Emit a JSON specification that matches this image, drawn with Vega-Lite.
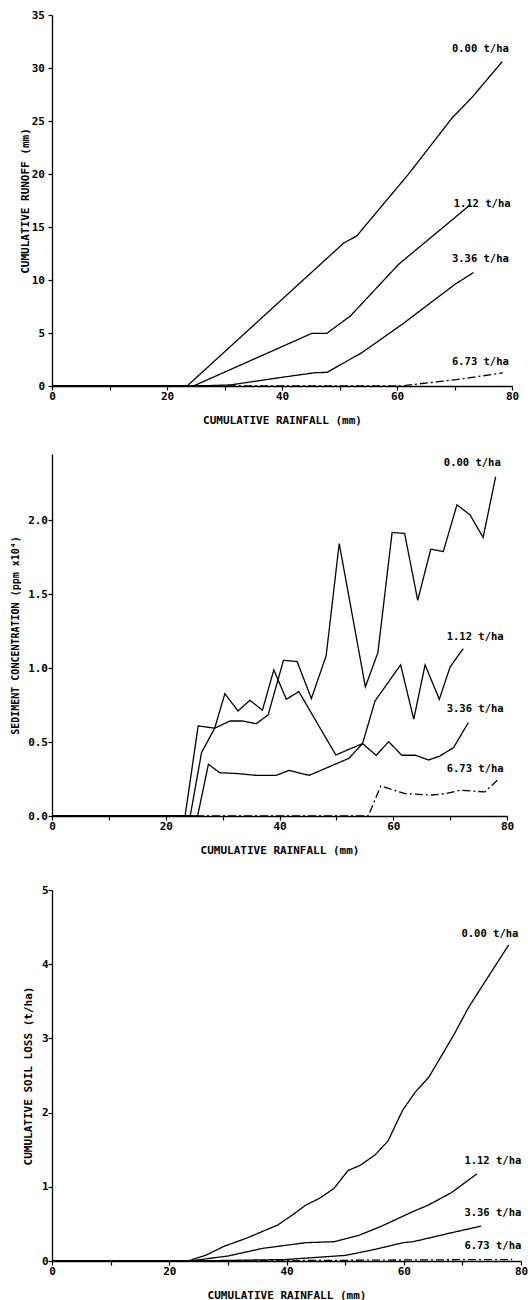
{
  "$schema": "https://vega.github.io/schema/vega-lite/v6.json",
  "padding": {"left": 10, "top": 9, "right": 0, "bottom": 0},
  "spacing": 29,
  "background": "white",
  "config": {
    "view": {"stroke": null},
    "axis": {
      "grid": false,
      "domainColor": "black",
      "domainWidth": 1.3,
      "tickColor": "black",
      "tickWidth": 1.2,
      "tickSize": 4,
      "labelColor": "black",
      "titleColor": "black",
      "labelFont": "DejaVu Sans Mono",
      "titleFont": "DejaVu Sans Mono",
      "labelFontWeight": "bold",
      "titleFontWeight": "bold",
      "labelFontSize": 11,
      "titleFontSize": 11,
      "labelFlush": false,
      "labelOverlap": false
    }
  },
  "datasets": {
    "series": [
      {"panel": "runoff", "series": "0.00", "rain": 0, "value": 0},
      {"panel": "runoff", "series": "0.00", "rain": 23.5, "value": 0},
      {"panel": "runoff", "series": "0.00", "rain": 50.7, "value": 13.47},
      {"panel": "runoff", "series": "0.00", "rain": 53.0, "value": 14.16},
      {"panel": "runoff", "series": "0.00", "rain": 62.0, "value": 19.99},
      {"panel": "runoff", "series": "0.00", "rain": 69.6, "value": 25.3},
      {"panel": "runoff", "series": "0.00", "rain": 73.0, "value": 27.2},
      {"panel": "runoff", "series": "0.00", "rain": 78.3, "value": 30.6},
      {"panel": "runoff", "series": "1.12", "rain": 0, "value": 0},
      {"panel": "runoff", "series": "1.12", "rain": 24.6, "value": 0},
      {"panel": "runoff", "series": "1.12", "rain": 45.2, "value": 4.97},
      {"panel": "runoff", "series": "1.12", "rain": 47.8, "value": 4.97},
      {"panel": "runoff", "series": "1.12", "rain": 51.9, "value": 6.61},
      {"panel": "runoff", "series": "1.12", "rain": 60.3, "value": 11.49},
      {"panel": "runoff", "series": "1.12", "rain": 72.75, "value": 17.1},
      {"panel": "runoff", "series": "3.36", "rain": 0, "value": 0},
      {"panel": "runoff", "series": "3.36", "rain": 25, "value": 0},
      {"panel": "runoff", "series": "3.36", "rain": 31, "value": 0.1},
      {"panel": "runoff", "series": "3.36", "rain": 40, "value": 0.82},
      {"panel": "runoff", "series": "3.36", "rain": 45.8, "value": 1.26},
      {"panel": "runoff", "series": "3.36", "rain": 47.8, "value": 1.28},
      {"panel": "runoff", "series": "3.36", "rain": 53.9, "value": 3.15},
      {"panel": "runoff", "series": "3.36", "rain": 60.9, "value": 5.82},
      {"panel": "runoff", "series": "3.36", "rain": 70.1, "value": 9.6},
      {"panel": "runoff", "series": "3.36", "rain": 73.3, "value": 10.7},
      {"panel": "runoff", "series": "6.73", "rain": 0, "value": 0},
      {"panel": "runoff", "series": "6.73", "rain": 60.5, "value": 0},
      {"panel": "runoff", "series": "6.73", "rain": 70.3, "value": 0.6},
      {"panel": "runoff", "series": "6.73", "rain": 78.4, "value": 1.23},

      {"panel": "sediment", "series": "0.00", "rain": 0, "value": 0},
      {"panel": "sediment", "series": "0.00", "rain": 24.3, "value": 0},
      {"panel": "sediment", "series": "0.00", "rain": 26.3, "value": 0.43},
      {"panel": "sediment", "series": "0.00", "rain": 28.6, "value": 0.594},
      {"panel": "sediment", "series": "0.00", "rain": 31.3, "value": 0.643},
      {"panel": "sediment", "series": "0.00", "rain": 33.5, "value": 0.643},
      {"panel": "sediment", "series": "0.00", "rain": 35.9, "value": 0.625},
      {"panel": "sediment", "series": "0.00", "rain": 38.0, "value": 0.684},
      {"panel": "sediment", "series": "0.00", "rain": 40.7, "value": 1.054},
      {"panel": "sediment", "series": "0.00", "rain": 43.1, "value": 1.045},
      {"panel": "sediment", "series": "0.00", "rain": 45.6, "value": 0.795},
      {"panel": "sediment", "series": "0.00", "rain": 48.2, "value": 1.084},
      {"panel": "sediment", "series": "0.00", "rain": 50.5, "value": 1.844},
      {"panel": "sediment", "series": "0.00", "rain": 55.1, "value": 0.874},
      {"panel": "sediment", "series": "0.00", "rain": 57.3, "value": 1.106},
      {"panel": "sediment", "series": "0.00", "rain": 59.8, "value": 1.919},
      {"panel": "sediment", "series": "0.00", "rain": 62.0, "value": 1.912},
      {"panel": "sediment", "series": "0.00", "rain": 64.3, "value": 1.46},
      {"panel": "sediment", "series": "0.00", "rain": 66.6, "value": 1.806},
      {"panel": "sediment", "series": "0.00", "rain": 68.8, "value": 1.79},
      {"panel": "sediment", "series": "0.00", "rain": 71.2, "value": 2.106},
      {"panel": "sediment", "series": "0.00", "rain": 73.5, "value": 2.038},
      {"panel": "sediment", "series": "0.00", "rain": 75.8, "value": 1.885},
      {"panel": "sediment", "series": "0.00", "rain": 78.0, "value": 2.296},
      {"panel": "sediment", "series": "1.12", "rain": 0, "value": 0},
      {"panel": "sediment", "series": "1.12", "rain": 23.4, "value": 0},
      {"panel": "sediment", "series": "1.12", "rain": 25.7, "value": 0.61},
      {"panel": "sediment", "series": "1.12", "rain": 28.6, "value": 0.594},
      {"panel": "sediment", "series": "1.12", "rain": 30.4, "value": 0.828},
      {"panel": "sediment", "series": "1.12", "rain": 32.7, "value": 0.711},
      {"panel": "sediment", "series": "1.12", "rain": 34.8, "value": 0.783},
      {"panel": "sediment", "series": "1.12", "rain": 37.0, "value": 0.716},
      {"panel": "sediment", "series": "1.12", "rain": 39.0, "value": 0.989},
      {"panel": "sediment", "series": "1.12", "rain": 41.2, "value": 0.79},
      {"panel": "sediment", "series": "1.12", "rain": 43.4, "value": 0.842},
      {"panel": "sediment", "series": "1.12", "rain": 49.9, "value": 0.413},
      {"panel": "sediment", "series": "1.12", "rain": 54.6, "value": 0.49},
      {"panel": "sediment", "series": "1.12", "rain": 56.8, "value": 0.779},
      {"panel": "sediment", "series": "1.12", "rain": 61.3, "value": 1.023},
      {"panel": "sediment", "series": "1.12", "rain": 63.6, "value": 0.655},
      {"panel": "sediment", "series": "1.12", "rain": 65.6, "value": 1.023},
      {"panel": "sediment", "series": "1.12", "rain": 68.1, "value": 0.79},
      {"panel": "sediment", "series": "1.12", "rain": 70.0, "value": 1.009},
      {"panel": "sediment", "series": "1.12", "rain": 72.3, "value": 1.133},
      {"panel": "sediment", "series": "3.36", "rain": 0, "value": 0},
      {"panel": "sediment", "series": "3.36", "rain": 25.6, "value": 0},
      {"panel": "sediment", "series": "3.36", "rain": 27.5, "value": 0.35},
      {"panel": "sediment", "series": "3.36", "rain": 29.5, "value": 0.293},
      {"panel": "sediment", "series": "3.36", "rain": 32.7, "value": 0.287},
      {"panel": "sediment", "series": "3.36", "rain": 35.9, "value": 0.275},
      {"panel": "sediment", "series": "3.36", "rain": 39.4, "value": 0.275},
      {"panel": "sediment", "series": "3.36", "rain": 41.7, "value": 0.309},
      {"panel": "sediment", "series": "3.36", "rain": 45.2, "value": 0.275},
      {"panel": "sediment", "series": "3.36", "rain": 52.2, "value": 0.39},
      {"panel": "sediment", "series": "3.36", "rain": 54.6, "value": 0.49},
      {"panel": "sediment", "series": "3.36", "rain": 57.0, "value": 0.411},
      {"panel": "sediment", "series": "3.36", "rain": 59.2, "value": 0.503},
      {"panel": "sediment", "series": "3.36", "rain": 61.5, "value": 0.411},
      {"panel": "sediment", "series": "3.36", "rain": 63.9, "value": 0.411},
      {"panel": "sediment", "series": "3.36", "rain": 66.2, "value": 0.379},
      {"panel": "sediment", "series": "3.36", "rain": 68.2, "value": 0.406},
      {"panel": "sediment", "series": "3.36", "rain": 70.6, "value": 0.463},
      {"panel": "sediment", "series": "3.36", "rain": 73.2, "value": 0.632},
      {"panel": "sediment", "series": "6.73", "rain": 0, "value": 0},
      {"panel": "sediment", "series": "6.73", "rain": 55.6, "value": 0},
      {"panel": "sediment", "series": "6.73", "rain": 57.8, "value": 0.203},
      {"panel": "sediment", "series": "6.73", "rain": 62.1, "value": 0.151},
      {"panel": "sediment", "series": "6.73", "rain": 66.8, "value": 0.142},
      {"panel": "sediment", "series": "6.73", "rain": 69.1, "value": 0.151},
      {"panel": "sediment", "series": "6.73", "rain": 71.7, "value": 0.174},
      {"panel": "sediment", "series": "6.73", "rain": 76.1, "value": 0.163},
      {"panel": "sediment", "series": "6.73", "rain": 78.3, "value": 0.242},

      {"panel": "soil", "series": "0.00", "rain": 0, "value": 0},
      {"panel": "soil", "series": "0.00", "rain": 23.2, "value": 0},
      {"panel": "soil", "series": "0.00", "rain": 26.3, "value": 0.08},
      {"panel": "soil", "series": "0.00", "rain": 29.4, "value": 0.2},
      {"panel": "soil", "series": "0.00", "rain": 33.1, "value": 0.305},
      {"panel": "soil", "series": "0.00", "rain": 38.5, "value": 0.485},
      {"panel": "soil", "series": "0.00", "rain": 41.0, "value": 0.62},
      {"panel": "soil", "series": "0.00", "rain": 43.3, "value": 0.754},
      {"panel": "soil", "series": "0.00", "rain": 45.6, "value": 0.843},
      {"panel": "soil", "series": "0.00", "rain": 48.1, "value": 0.978},
      {"panel": "soil", "series": "0.00", "rain": 50.5, "value": 1.22},
      {"panel": "soil", "series": "0.00", "rain": 52.6, "value": 1.29},
      {"panel": "soil", "series": "0.00", "rain": 55.1, "value": 1.43},
      {"panel": "soil", "series": "0.00", "rain": 57.3, "value": 1.615},
      {"panel": "soil", "series": "0.00", "rain": 59.8, "value": 2.03},
      {"panel": "soil", "series": "0.00", "rain": 61.9, "value": 2.27},
      {"panel": "soil", "series": "0.00", "rain": 64.3, "value": 2.48},
      {"panel": "soil", "series": "0.00", "rain": 68.7, "value": 3.07},
      {"panel": "soil", "series": "0.00", "rain": 71.0, "value": 3.41},
      {"panel": "soil", "series": "0.00", "rain": 73.1, "value": 3.67},
      {"panel": "soil", "series": "0.00", "rain": 77.9, "value": 4.26},
      {"panel": "soil", "series": "1.12", "rain": 0, "value": 0},
      {"panel": "soil", "series": "1.12", "rain": 23.5, "value": 0},
      {"panel": "soil", "series": "1.12", "rain": 30.0, "value": 0.067},
      {"panel": "soil", "series": "1.12", "rain": 35.9, "value": 0.17},
      {"panel": "soil", "series": "1.12", "rain": 43.3, "value": 0.247},
      {"panel": "soil", "series": "1.12", "rain": 48.1, "value": 0.26},
      {"panel": "soil", "series": "1.12", "rain": 52.3, "value": 0.345},
      {"panel": "soil", "series": "1.12", "rain": 56.0, "value": 0.462},
      {"panel": "soil", "series": "1.12", "rain": 61.4, "value": 0.66},
      {"panel": "soil", "series": "1.12", "rain": 64.2, "value": 0.754},
      {"panel": "soil", "series": "1.12", "rain": 68.1, "value": 0.92},
      {"panel": "soil", "series": "1.12", "rain": 72.5, "value": 1.175},
      {"panel": "soil", "series": "3.36", "rain": 0, "value": 0},
      {"panel": "soil", "series": "3.36", "rain": 23.5, "value": 0},
      {"panel": "soil", "series": "3.36", "rain": 39.9, "value": 0.02},
      {"panel": "soil", "series": "3.36", "rain": 50.1, "value": 0.076},
      {"panel": "soil", "series": "3.36", "rain": 55.1, "value": 0.157},
      {"panel": "soil", "series": "3.36", "rain": 59.9, "value": 0.247},
      {"panel": "soil", "series": "3.36", "rain": 61.6, "value": 0.26},
      {"panel": "soil", "series": "3.36", "rain": 68.1, "value": 0.38},
      {"panel": "soil", "series": "3.36", "rain": 73.2, "value": 0.47},
      {"panel": "soil", "series": "6.73", "rain": 0, "value": 0},
      {"panel": "soil", "series": "6.73", "rain": 40, "value": 0.005},
      {"panel": "soil", "series": "6.73", "rain": 62, "value": 0.015},
      {"panel": "soil", "series": "6.73", "rain": 78.5, "value": 0.02}
    ],
    "labels": [
      {"panel": "runoff", "label": "0.00 t/ha", "rain": 74.5, "value": 31.8},
      {"panel": "runoff", "label": "1.12 t/ha", "rain": 74.8, "value": 17.15},
      {"panel": "runoff", "label": "3.36 t/ha", "rain": 74.5, "value": 11.96},
      {"panel": "runoff", "label": "6.73 t/ha", "rain": 74.5, "value": 2.3},
      {"panel": "sediment", "label": "0.00 t/ha", "rain": 73.9, "value": 2.39},
      {"panel": "sediment", "label": "1.12 t/ha", "rain": 74.4, "value": 1.212},
      {"panel": "sediment", "label": "3.36 t/ha", "rain": 74.4, "value": 0.727},
      {"panel": "sediment", "label": "6.73 t/ha", "rain": 74.4, "value": 0.32},
      {"panel": "soil", "label": "0.00 t/ha", "rain": 74.7, "value": 4.41},
      {"panel": "soil", "label": "1.12 t/ha", "rain": 75.2, "value": 1.35},
      {"panel": "soil", "label": "3.36 t/ha", "rain": 75.2, "value": 0.65},
      {"panel": "soil", "label": "6.73 t/ha", "rain": 75.2, "value": 0.2}
    ]
  },
  "vconcat": [
    {
      "width": 460,
      "height": 371,
      "layer": [
        {
          "data": {"name": "series"},
          "transform": [{"filter": "datum.panel === 'runoff'"}],
          "mark": {"type": "line", "color": "black", "strokeWidth": 1.3},
          "encoding": {
            "x": {"field": "rain", "type": "quantitative", "scale": {"domain": [0, 80], "nice": false},
              "axis": {"title": "CUMULATIVE RAINFALL (mm)", "values": [0, 10, 20, 30, 40, 50, 60, 70, 80], "format": "d", "labelExpr": "datum.value % 20 === 0 ? datum.label : ''", "labelPadding": 0, "titlePadding": 13}},
            "y": {"field": "value", "type": "quantitative", "scale": {"domain": [0, 35], "nice": false},
              "axis": {"title": "CUMULATIVE RUNOFF (mm)", "values": [0, 5, 10, 15, 20, 25, 30, 35], "format": "d", "labelPadding": 3.5, "titlePadding": 1}},
            "detail": {"field": "series"},
            "strokeDash": {"field": "series", "type": "nominal", "scale": {"domain": ["0.00", "1.12", "3.36", "6.73"], "range": [[1, 0], [1, 0], [1, 0], [8, 3, 2, 3]]}, "legend": null}
          }
        },
        {
          "data": {"name": "labels"},
          "transform": [{"filter": "datum.panel === 'runoff'"}],
          "mark": {"type": "text", "font": "DejaVu Sans Mono", "fontWeight": "bold", "fontSize": 10.5, "align": "center", "baseline": "middle", "color": "black"},
          "encoding": {
            "x": {"field": "rain", "type": "quantitative"},
            "y": {"field": "value", "type": "quantitative"},
            "text": {"field": "label"}
          }
        }
      ]
    },
    {
      "width": 455,
      "height": 362,
      "layer": [
        {
          "data": {"name": "series"},
          "transform": [{"filter": "datum.panel === 'sediment'"}],
          "mark": {"type": "line", "color": "black", "strokeWidth": 1.3},
          "encoding": {
            "x": {"field": "rain", "type": "quantitative", "scale": {"domain": [0, 80], "nice": false},
              "axis": {"title": "CUMULATIVE RAINFALL (mm)", "values": [0, 10, 20, 30, 40, 50, 60, 70, 80], "format": "d", "labelExpr": "datum.value % 20 === 0 ? datum.label : ''", "labelPadding": 0, "titlePadding": 13}},
            "y": {"field": "value", "type": "quantitative", "scale": {"domain": [0, 2.45], "nice": false},
              "axis": {"title": "SEDIMENT CONCENTRATION (ppm x10⁴)", "titleFontSize": 10, "values": [0, 0.5, 1, 1.5, 2], "format": ".1f", "labelPadding": 0.5, "titlePadding": 7}},
            "detail": {"field": "series"},
            "strokeDash": {"field": "series", "type": "nominal", "scale": {"domain": ["0.00", "1.12", "3.36", "6.73"], "range": [[1, 0], [1, 0], [1, 0], [8, 3, 2, 3]]}, "legend": null}
          }
        },
        {
          "data": {"name": "labels"},
          "transform": [{"filter": "datum.panel === 'sediment'"}],
          "mark": {"type": "text", "font": "DejaVu Sans Mono", "fontWeight": "bold", "fontSize": 10.5, "align": "center", "baseline": "middle", "color": "black"},
          "encoding": {
            "x": {"field": "rain", "type": "quantitative"},
            "y": {"field": "value", "type": "quantitative"},
            "text": {"field": "label"}
          }
        }
      ]
    },
    {
      "width": 469,
      "height": 371,
      "layer": [
        {
          "data": {"name": "series"},
          "transform": [{"filter": "datum.panel === 'soil'"}],
          "mark": {"type": "line", "color": "black", "strokeWidth": 1.3},
          "encoding": {
            "x": {"field": "rain", "type": "quantitative", "scale": {"domain": [0, 80], "nice": false},
              "axis": {"title": "CUMULATIVE RAINFALL (mm)", "values": [0, 10, 20, 30, 40, 50, 60, 70, 80], "format": "d", "labelExpr": "datum.value % 20 === 0 ? datum.label : ''", "labelPadding": 0, "titlePadding": 13}},
            "y": {"field": "value", "type": "quantitative", "scale": {"domain": [0, 5], "nice": false},
              "axis": {"title": "CUMULATIVE SOIL LOSS (t/ha)", "values": [0, 1, 2, 3, 4, 5], "format": "d", "labelPadding": 0, "titlePadding": 7.7}},
            "detail": {"field": "series"},
            "strokeDash": {"field": "series", "type": "nominal", "scale": {"domain": ["0.00", "1.12", "3.36", "6.73"], "range": [[1, 0], [1, 0], [1, 0], [1, 0]]}, "legend": null}
          }
        },
        {
          "data": {"name": "labels"},
          "transform": [{"filter": "datum.panel === 'soil'"}],
          "mark": {"type": "text", "font": "DejaVu Sans Mono", "fontWeight": "bold", "fontSize": 10.5, "align": "center", "baseline": "middle", "color": "black"},
          "encoding": {
            "x": {"field": "rain", "type": "quantitative"},
            "y": {"field": "value", "type": "quantitative"},
            "text": {"field": "label"}
          }
        }
      ]
    }
  ]
}
